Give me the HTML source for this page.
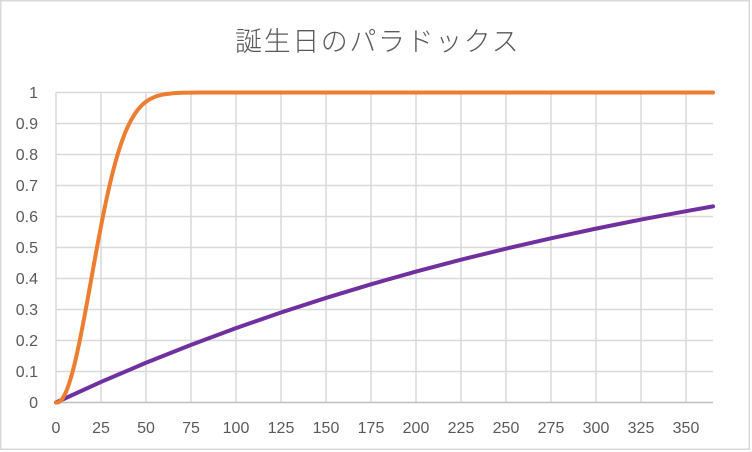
<!DOCTYPE html>
<html><head><meta charset="utf-8"><style>
html,body{margin:0;padding:0;background:#fff;}
svg{display:block;}
text{font-family:"Liberation Sans","Noto Sans CJK JP",sans-serif;fill:#595959;}
</style></head><body>
<svg width="752" height="452" viewBox="0 0 752 452" xmlns="http://www.w3.org/2000/svg">
<rect x="0" y="0" width="752" height="452" fill="#fff"/>
<rect x="0.75" y="0.75" width="748.5" height="448.5" fill="none" stroke="#d9d9d9" stroke-width="1.5"/>
<text x="235" y="51" font-size="27" font-weight="300" letter-spacing="1.6" style="font-family:'Noto Sans CJK JP',sans-serif">誕生日のパラドックス</text>
<g stroke="#d9d9d9" stroke-width="1.5">
<line x1="56" y1="92.5" x2="713" y2="92.5"/>
<line x1="56" y1="123.5" x2="713" y2="123.5"/>
<line x1="56" y1="154.5" x2="713" y2="154.5"/>
<line x1="56" y1="185.5" x2="713" y2="185.5"/>
<line x1="56" y1="216.5" x2="713" y2="216.5"/>
<line x1="56" y1="247.5" x2="713" y2="247.5"/>
<line x1="56" y1="278.5" x2="713" y2="278.5"/>
<line x1="56" y1="309.5" x2="713" y2="309.5"/>
<line x1="56" y1="340.5" x2="713" y2="340.5"/>
<line x1="56" y1="371.5" x2="713" y2="371.5"/>
<line x1="56" y1="92.5" x2="56" y2="402.5"/>
<line x1="101" y1="92.5" x2="101" y2="402.5"/>
<line x1="146" y1="92.5" x2="146" y2="402.5"/>
<line x1="191" y1="92.5" x2="191" y2="402.5"/>
<line x1="236" y1="92.5" x2="236" y2="402.5"/>
<line x1="281" y1="92.5" x2="281" y2="402.5"/>
<line x1="326" y1="92.5" x2="326" y2="402.5"/>
<line x1="371" y1="92.5" x2="371" y2="402.5"/>
<line x1="416" y1="92.5" x2="416" y2="402.5"/>
<line x1="461" y1="92.5" x2="461" y2="402.5"/>
<line x1="506" y1="92.5" x2="506" y2="402.5"/>
<line x1="551" y1="92.5" x2="551" y2="402.5"/>
<line x1="596" y1="92.5" x2="596" y2="402.5"/>
<line x1="641" y1="92.5" x2="641" y2="402.5"/>
<line x1="686" y1="92.5" x2="686" y2="402.5"/>
</g>
<line x1="56" y1="402.5" x2="713" y2="402.5" stroke="#bfbfbf" stroke-width="1.5"/>
<g font-size="16" text-anchor="end">
<text x="38" y="98">1</text>
<text x="38" y="129">0.9</text>
<text x="38" y="160">0.8</text>
<text x="38" y="191">0.7</text>
<text x="38" y="222">0.6</text>
<text x="38" y="253">0.5</text>
<text x="38" y="284">0.4</text>
<text x="38" y="315">0.3</text>
<text x="38" y="346">0.2</text>
<text x="38" y="377">0.1</text>
<text x="38" y="408">0</text>
</g>
<g font-size="16" text-anchor="middle">
<text x="56" y="433">0</text>
<text x="101" y="433">25</text>
<text x="146" y="433">50</text>
<text x="191" y="433">75</text>
<text x="236" y="433">100</text>
<text x="281" y="433">125</text>
<text x="326" y="433">150</text>
<text x="371" y="433">175</text>
<text x="416" y="433">200</text>
<text x="461" y="433">225</text>
<text x="506" y="433">250</text>
<text x="551" y="433">275</text>
<text x="596" y="433">300</text>
<text x="641" y="433">325</text>
<text x="686" y="433">350</text>
</g>
<polyline fill="none" stroke="#7030a0" stroke-width="4" stroke-linejoin="round" stroke-linecap="round"
points="56,402.5 101,381.95 146,362.76 191,344.83 236,328.12 281,312.5 326,297.92 371,284.3 416,271.59 461,259.72 506,248.63 551,238.29 596,228.62 641,219.6 686,211.17 713,206.38"/>
<polyline fill="none" stroke="#ed7d31" stroke-width="4" stroke-linejoin="round" stroke-linecap="round"
points="56,402.5 57.8,402.5 59.6,401.65 61.4,399.96 63.2,397.42 65,394.1 66.8,389.94 68.6,385.08 70.4,379.47 72.2,373.17 74,366.26 75.8,358.76 77.6,350.73 79.4,342.24 81.2,333.34 83,324.1 84.8,314.58 86.6,304.85 88.4,294.96 90.2,284.98 92,274.97 93.8,264.95 95.6,255.03 97.4,245.24 99.2,235.63 101,226.2 102.8,217.06 104.6,208.16 106.4,199.6 108.2,191.39 110,183.55 111.8,176.05 113.6,168.98 115.4,162.25 117.2,155.96 119,150.04 120.8,144.52 122.6,139.4 124.4,134.63 126.2,130.26 128,126.23 131.6,119.16 135.2,113.3 137,110.79 140.6,106.51 142.4,104.71 146,101.68 149.6,99.32 155,96.75 158.6,95.57 164,94.33 173,93.21 182,92.76 191,92.59 200,92.53 713,92.5"/>
</svg>
</body></html>
